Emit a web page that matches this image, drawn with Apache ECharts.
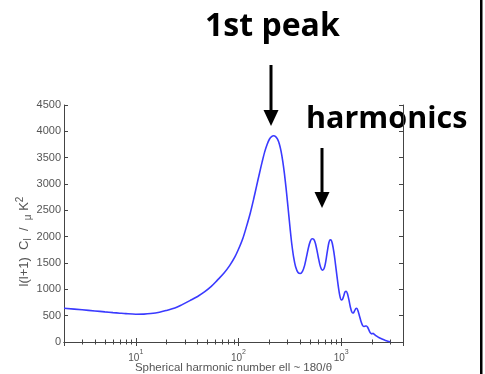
<!DOCTYPE html>
<html><head><meta charset="utf-8">
<script src="https://cdn.jsdelivr.net/npm/echarts@6/dist/echarts.min.js"></script>
<style>html,body{margin:0;padding:0;background:#fff}#c{width:485px;height:374px}</style>
</head><body><div id="c"></div>
<script>
// multipole ell
const ell = [2,3,4,5,6,7,8,10,12,14,17,20,24,28,34,40,47,54,62,72,82,92,100,110,120,130,140,150,160,170,180,190,200,210,220,230,240,250,260,270,280,290,300,310,320,330,345,360,380,400,420,440,460,480,500,520,540,560,580,600,620,640,660,680,700,720,740,760,780,800,820,850,880,910,940,970,1000,1030,1060,1090,1120,1150,1190,1230,1270,1310,1350,1390,1420,1460,1510,1560,1610,1660,1710,1760,1810,1870,1930,1990,2040,2090,2200,2350,2500,2700,2900,3000];
// l(l+1) C_l  (μK^2)
const power = [642,612,590,572,558,547,538,528,530,540,565,600,645,705,790,865,955,1050,1170,1304,1450,1610,1760,1960,2200,2440,2700,2960,3200,3420,3610,3750,3850,3900,3915,3900,3850,3760,3620,3430,3200,2940,2660,2380,2110,1870,1600,1430,1320,1300,1340,1450,1620,1790,1910,1960,1950,1880,1750,1600,1470,1390,1365,1390,1480,1620,1770,1890,1940,1935,1870,1700,1480,1250,1040,880,800,810,880,950,965,920,800,660,570,550,590,635,640,590,490,390,320,295,300,305,280,220,170,155,165,150,115,80,55,28,8,3];
const xRange = [2, 4000];
const yRange = [0, 4500];
const yStep = 500;

const axisColor = '#444';
const labelColor = '#555';
const chart = echarts.init(document.getElementById('c'), null, {renderer:'canvas'});
const supMap = {10:'1',100:'2',1000:'3'};
chart.setOption({
  animation:false,
  backgroundColor:'#fff',
  grid:{left:64,right:82,top:105,bottom:32,containLabel:false,outerBoundsMode:'none'},
  xAxis:[{
    type:'log', logBase:10, min:xRange[0], max:xRange[1], position:'bottom',
    name:'Spherical harmonic number ell ~ 180/θ', nameLocation:'middle', nameGap:20, nameMoveOverlap:false,
    nameTextStyle:{color:labelColor,fontSize:11.5,fontFamily:'Liberation Sans, Arial'},
    axisLine:{lineStyle:{color:axisColor,width:1}},
    axisTick:{inside:true,length:4,lineStyle:{color:axisColor}},
    minorTick:{show:true,splitNumber:9,length:2.5,lineStyle:{color:axisColor}},
    splitLine:{show:false},
    axisLabel:{margin:7,color:labelColor,fontFamily:'Liberation Sans, Arial',
      formatter:function(v){const k=Math.round(v);return supMap[k]?'{b|10}{s|'+supMap[k]+'}':'';},
      rich:{b:{fontSize:10,color:labelColor,lineHeight:14,verticalAlign:'bottom'},s:{fontSize:7,color:labelColor,lineHeight:14,verticalAlign:'top'}}}
  },{
    type:'log', logBase:10, min:xRange[0], max:xRange[1], position:'top',
    axisLine:{lineStyle:{color:axisColor,width:1}},
    axisTick:{inside:true,length:4,lineStyle:{color:axisColor}},
    minorTick:{show:true,splitNumber:9,length:2.5,lineStyle:{color:axisColor}},
    splitLine:{show:false}, axisLabel:{show:false}
  }],
  yAxis:[{
    type:'value', min:yRange[0], max:yRange[1], interval:yStep, position:'left',
    name:'l(l+1)  C{sb|l}  /  {sb|μ} K{sp|2}', nameLocation:'middle', nameGap:31, nameRotate:90, nameMoveOverlap:false,
    nameTextStyle:{color:labelColor,fontSize:13,fontFamily:'Liberation Sans, Arial',padding:[0,36,0,0],
      rich:{sb:{fontSize:10,color:labelColor,verticalAlign:'bottom',lineHeight:18},sp:{fontSize:10,color:labelColor,verticalAlign:'top',lineHeight:18}}},
    axisLine:{show:true,lineStyle:{color:axisColor,width:1}},
    axisTick:{show:true,inside:true,length:4,lineStyle:{color:axisColor}},
    splitLine:{show:false},
    axisLabel:{margin:3,color:labelColor,fontSize:11,fontFamily:'Liberation Sans, Arial',formatter:function(v){return String(v);}}
  },{
    type:'value', min:yRange[0], max:yRange[1], interval:yStep, position:'right',
    axisLine:{show:true,lineStyle:{color:axisColor,width:1}},
    axisTick:{show:true,inside:true,length:4,lineStyle:{color:axisColor}},
    splitLine:{show:false}, axisLabel:{show:false}
  }],
  series:[{
    type:'line', xAxisIndex:0, yAxisIndex:0,
    data: ell.map((x,i)=>[x,power[i]]),
    showSymbol:false, smooth:0.3,
    lineStyle:{color:'#3a3aff',width:1.6}
  }],
  graphic:[
    {type:'text',left:205,top:11,style:{text:'1st peak',font:'bold 32px "Open Sans"',fill:'#000'}},
    {type:'text',left:306,top:104,style:{text:'harmonics',font:'bold 30.5px "Open Sans"',fill:'#000'}},
    {type:'line',shape:{x1:271,y1:65,x2:271,y2:113},style:{stroke:'#000',lineWidth:3}},
    {type:'polygon',shape:{points:[[263.5,110],[278.5,110],[271,126]]},style:{fill:'#000'}},
    {type:'line',shape:{x1:322,y1:148,x2:322,y2:195},style:{stroke:'#000',lineWidth:3}},
    {type:'polygon',shape:{points:[[314.5,192],[329.5,192],[322,208]]},style:{fill:'#000'}},
    {type:'rect',shape:{x:480,y:0,width:2.5,height:374},style:{fill:'#000'}}
  ]
});
</script>
</body></html>
